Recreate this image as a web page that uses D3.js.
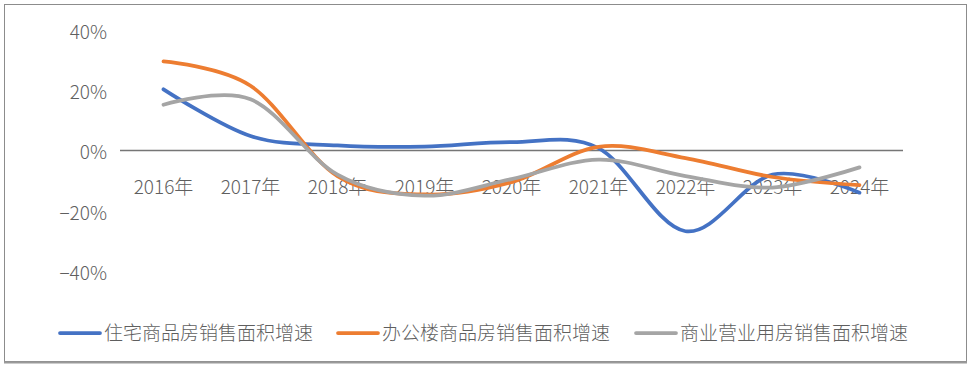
<!DOCTYPE html>
<html>
<head>
<meta charset="utf-8">
<script src="https://cdn.jsdelivr.net/npm/d3@7"></script>
<style>
  body { margin: 0; background: #fff; }
  text { font-family: "Noto Sans CJK SC", "Noto Sans", sans-serif; font-weight: 300; fill: #5f5f5f; }
</style>
</head>
<body>
<div id="chart"></div>
<script>
// data (%)
const years = ['2016年', '2017年', '2018年', '2019年', '2020年', '2021年', '2022年', '2023年', '2024年'];
const residential = [20.3, 4.8, 1.7, 1.3, 2.8, 0.8, -26.8, -8.0, -14.0];
const office = [29.6, 21.5, -8.5, -14.6, -10.5, 1.2, -2.5, -8.8, -11.5];
const commercial = [15.2, 17.0, -8.0, -15.0, -9.5, -3.0, -8.5, -12.3, -5.6];
const yTicks = [40, 20, 0, -20, -40];
const seriesNames = ['住宅商品房销售面积增速', '办公楼商品房销售面积增速', '商业营业用房销售面积增速'];
const colors = ['#4472c4', '#ed7d31', '#a5a5a5'];

const width = 973, height = 367;

let svg = d3.select('#chart').append('svg')
  .attr('width', width)
  .attr('height', height);

// outer frame
svg.append('rect')
  .attr('x', 4.5).attr('y', 4.5)
  .attr('width', 962).attr('height', 357)
  .attr('fill', 'none')
  .attr('stroke', '#8c8c8c');
svg.append('line')
  .attr('x1', 4).attr('x2', 967)
  .attr('y1', 362.5).attr('y2', 362.5)
  .attr('stroke', '#9a9a9a').attr('stroke-width', 2);

let x = d3.scaleBand().domain(years).range([120, 903]);
let y = d3.scaleLinear().domain([-40, 40]).range([271, 30]);

// y tick labels
svg.selectAll('.ytick')
  .data(yTicks)
  .enter().append('text')
  .attr('class', 'ytick')
  .attr('x', 107)
  .attr('y', d => y(d) + 2)
  .attr('dy', '0.36em')
  .attr('text-anchor', 'end')
  .style('font-size', '19px')
  .text(d => (d < 0 ? '−' + Math.abs(d) : d) + '%');

// zero line
svg.append('line')
  .attr('x1', x.range()[0]).attr('x2', x.range()[1])
  .attr('y1', y(0)).attr('y2', y(0))
  .attr('stroke', '#767676')
  .attr('stroke-width', 1.5);

// category labels
svg.selectAll('.xtick')
  .data(years)
  .enter().append('text')
  .attr('class', 'xtick')
  .attr('x', d => x(d) + x.bandwidth() / 2)
  .attr('y', y(0) + 37)
  .attr('dy', '0.36em')
  .attr('text-anchor', 'middle')
  .style('font-size', '19px')
  .text(d => d);

let line = d3.line()
  .x((d, i) => x(years[i]) + x.bandwidth() / 2)
  .y(d => y(d))
  .curve(d3.curveCardinal.tension(0));

[residential, office, commercial].forEach(function(s, i) {
  svg.append('path')
    .datum(s)
    .attr('fill', 'none')
    .attr('stroke', colors[i])
    .attr('stroke-width', 3.75)
    .attr('stroke-linecap', 'round')
    .attr('d', line);
});

// legend
let legendX = [60, 338, 636];
let legend = svg.selectAll('.legend')
  .data(seriesNames)
  .enter().append('g')
  .attr('class', 'legend')
  .attr('transform', (d, i) => 'translate(' + legendX[i] + ',333)');

legend.append('line')
  .attr('x1', 0).attr('x2', 40)
  .attr('stroke', (d, i) => colors[i])
  .attr('stroke-width', 3.75)
  .attr('stroke-linecap', 'round');

legend.append('text')
  .attr('x', 44)
  .attr('dy', '0.36em')
  .style('font-size', '19px')
  .text(d => d);
</script>
</body>
</html>
